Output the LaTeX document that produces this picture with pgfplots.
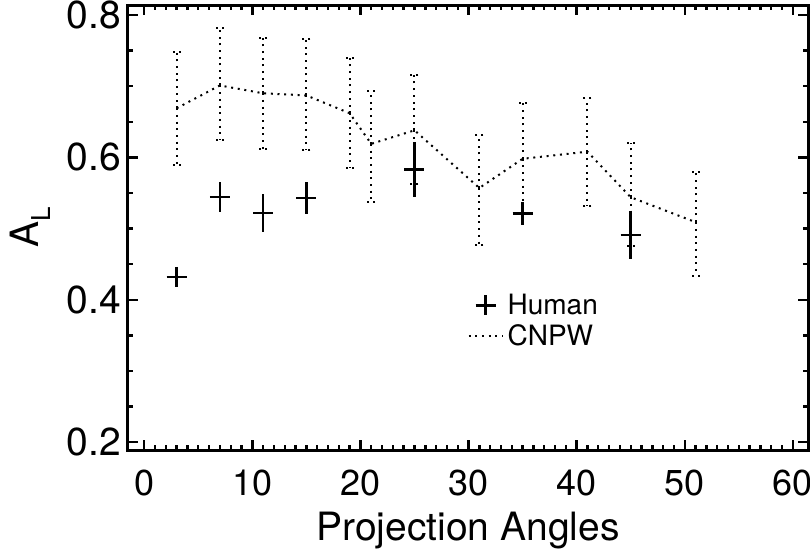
\documentclass[border=0pt]{standalone}
\usepackage{fontspec}
\setmainfont{TeX Gyre Heros}
\usepackage{pgfplots}
\pgfplotsset{compat=1.18}
\usepackage{pgfplotstable}

% CNPW: mean with upper / lower end of the error bar
\pgfplotstableread{
x  y     top   bot
3  0.669 0.748 0.589
7  0.701 0.781 0.624
11 0.690 0.768 0.612
15 0.687 0.766 0.610
19 0.662 0.740 0.585
21 0.619 0.693 0.537
25 0.638 0.715 0.563
31 0.557 0.631 0.477
35 0.598 0.676 0.520
41 0.608 0.683 0.532
45 0.544 0.620 0.476
51 0.509 0.580 0.434
}\cnpw

% Human: mean and symmetric error
\pgfplotstableread{
x  y     err
3  0.432 0.000
7  0.544 0.021
11 0.522 0.027
15 0.543 0.022
25 0.583 0.038
35 0.521 0.016
45 0.491 0.034
}\human

\begin{document}
\begin{tikzpicture}
\begin{axis}[
  scale only axis, width=340bp, height=222.5bp,
  xmin=-1.5, xmax=61.4, ymin=0.189, ymax=0.814,
  xtick={0,10,...,60}, ytick={0.2,0.4,0.6,0.8},
  minor x tick num=9, minor y tick num=3,
  /pgf/number format/assume math mode=true,
  yticklabel style={/pgf/number format/fixed, /pgf/number format/precision=1,
    /pgf/number format/fixed zerofill},
  tick label style={font=\fontsize{19.5bp}{23bp}\selectfont},
  xticklabel style={anchor=base, yshift=-22.5bp, font=\fontsize{18bp}{21bp}\selectfont},
  label style={font=\fontsize{19.5bp}{23bp}\selectfont},
  xlabel style={at={(axis description cs:0.5,0)}, anchor=base, yshift=-45bp},
  ylabel style={yshift=1.5bp},
  axis line style={line width=1.5bp},
  tick style={black, line width=1.2bp},
  major tick length=5bp, minor tick length=2.5bp,
  xlabel={Projection Angles},
  ylabel={A\raisebox{-0.3em}{\fontsize{13bp}{13bp}\selectfont L}},
  legend cell align=left,
  legend style={draw=none, fill=none, at={(rel axis cs:0.49,0.37)},
    anchor=north west, font=\fontsize{14bp}{16bp}\selectfont, row sep=-0.5bp},
]
\addplot[black, only marks, mark=+, mark size=5bp, line width=1.25bp,
  error bars/.cd, y dir=both, y explicit, error mark=none,
  error bar style={line width=1.25bp, solid}]
  table[x=x, y=y, y error=err] {\human};
\addlegendentry{Human}

\addplot[black, mark=none, line width=1bp, dash pattern=on 1bp off 2.35bp,
  error bars/.cd, y dir=both, y explicit, error mark=none,
  error bar style={line width=1bp, dash pattern=on 1bp off 2.35bp}]
  table[x=x, y=y, y error plus expr=\thisrow{top}-\thisrow{y},
    y error minus expr=\thisrow{y}-\thisrow{bot}] {\cnpw};
\addlegendentry{CNPW}

% dotted caps at the ends of the CNPW error bars
\addplot[black, only marks, mark=-, mark size=2bp, forget plot,
  mark options={line width=1bp, dash pattern=on 1bp off 2bp}]
  table[x=x, y=top] {\cnpw};
\addplot[black, only marks, mark=-, mark size=2bp, forget plot,
  mark options={line width=1bp, dash pattern=on 1bp off 2bp}]
  table[x=x, y=bot] {\cnpw};
\end{axis}
\pgfresetboundingbox
\path[use as bounding box] ([xshift=-64bp,yshift=-52.5bp]current axis.south west)
  rectangle ([xshift=1bp,yshift=2.5bp]current axis.north east);
\end{tikzpicture}
\end{document}
